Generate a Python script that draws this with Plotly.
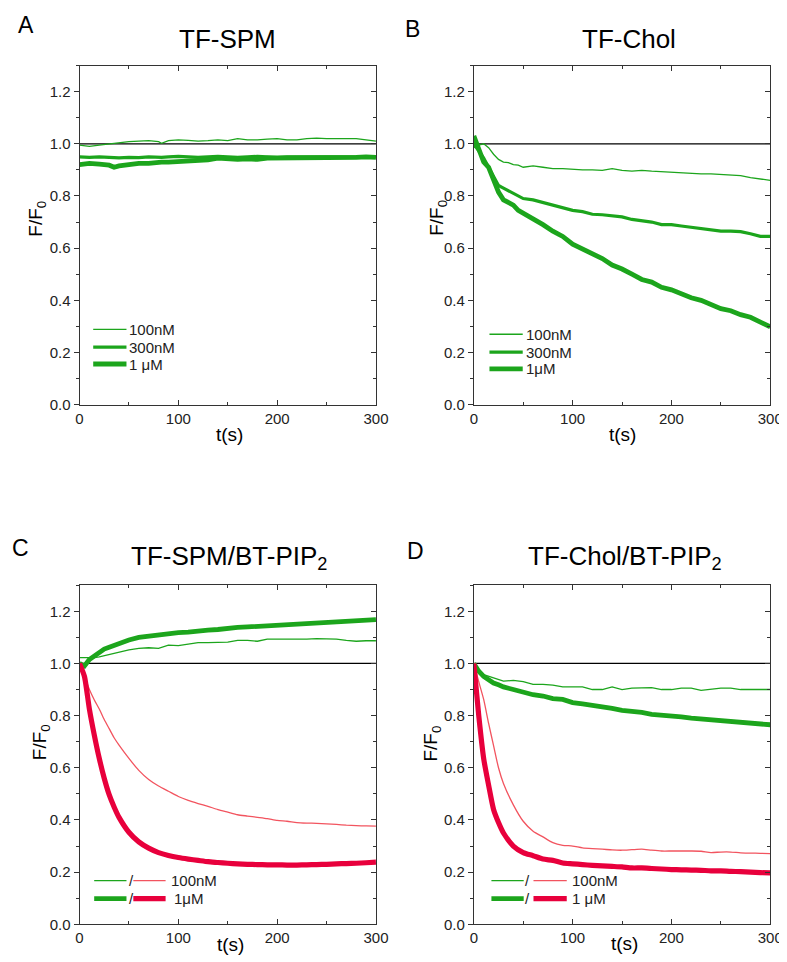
import plotly.graph_objects as go

# ---------------- data ----------------
t_a = [0, 10, 20, 30, 35, 40, 50, 60, 70, 80, 83, 90, 100, 110, 120, 130, 140, 150,
       160, 170, 180, 190, 200, 210, 220, 230, 240, 250, 260, 270, 280, 290, 300]
a_100nM = [0.995, 0.99, 0.995, 1.0, 1.003, 1.005, 1.008, 1.01, 1.012, 1.008, 1.002, 1.012,
           1.015, 1.013, 1.01, 1.012, 1.015, 1.012, 1.02, 1.015, 1.015, 1.018, 1.02, 1.015,
           1.015, 1.02, 1.022, 1.02, 1.02, 1.018, 1.02, 1.015, 1.01]
a_300nM = [0.95, 0.948, 0.95, 0.947, 0.945, 0.946, 0.948, 0.947, 0.95, 0.948, 0.948, 0.95,
           0.952, 0.95, 0.948, 0.95, 0.952, 0.95, 0.948, 0.95, 0.952, 0.95, 0.948, 0.95,
           0.95, 0.952, 0.95, 0.95, 0.952, 0.95, 0.95, 0.952, 0.95]
a_1uM = [0.92, 0.925, 0.922, 0.918, 0.91, 0.915, 0.92, 0.925, 0.925, 0.93, 0.93, 0.93,
         0.932, 0.935, 0.94, 0.938, 0.945, 0.942, 0.94, 0.942, 0.94, 0.945, 0.945, 0.945,
         0.948, 0.945, 0.945, 0.948, 0.948, 0.945, 0.948, 0.95, 0.948]

t_b = [0, 5, 10, 15, 20, 25, 30, 35, 40, 45, 50, 60, 70, 80, 90, 100, 110, 120, 130, 140,
       150, 160, 170, 180, 190, 200, 210, 220, 230, 240, 250, 260, 270, 280, 290, 300]
b_100nM = [0.985, 0.995, 1.0, 0.985, 0.96, 0.94, 0.93, 0.928, 0.92, 0.918, 0.91, 0.915,
           0.91, 0.905, 0.905, 0.902, 0.9, 0.9, 0.898, 0.905, 0.898, 0.895, 0.898, 0.895,
           0.893, 0.89, 0.89, 0.888, 0.885, 0.885, 0.882, 0.88, 0.878, 0.87, 0.865, 0.86]
b_300nM = [1.0, 0.975, 0.945, 0.91, 0.875, 0.84, 0.83, 0.82, 0.81, 0.8, 0.79, 0.785,
           0.775, 0.765, 0.755, 0.745, 0.74, 0.73, 0.728, 0.725, 0.72, 0.71, 0.705, 0.7,
           0.69, 0.69, 0.685, 0.68, 0.675, 0.67, 0.665, 0.665, 0.663, 0.655, 0.645, 0.645]
b_1uM = [1.03, 0.98, 0.93, 0.91, 0.86, 0.815, 0.785, 0.775, 0.765, 0.745, 0.735, 0.71,
         0.69, 0.665, 0.645, 0.615, 0.598, 0.58, 0.56, 0.535, 0.52, 0.5, 0.48, 0.47,
         0.45, 0.44, 0.425, 0.41, 0.4, 0.385, 0.368, 0.36, 0.345, 0.335, 0.315, 0.298]

t_c = [0, 5, 10, 15, 20, 25, 30, 35, 40, 50, 60, 70, 80, 90, 100, 110, 120, 130, 140,
       150, 160, 170, 180, 190, 200, 210, 220, 230, 240, 250, 260, 270, 280, 290, 300]
c_green_100nM = [1.022, 1.022, 1.02, 1.022, 1.025, 1.03, 1.035, 1.04, 1.045, 1.052, 1.058,
                 1.06, 1.058, 1.07, 1.068, 1.075, 1.08, 1.08, 1.08, 1.082, 1.088, 1.088,
                 1.085, 1.093, 1.093, 1.093, 1.092, 1.093, 1.095, 1.093, 1.093, 1.088,
                 1.085, 1.087, 1.087]
c_green_1uM = [1.0, 0.99, 1.015, 1.03, 1.045, 1.055, 1.062, 1.07, 1.075, 1.09, 1.1, 1.105,
               1.11, 1.115, 1.118, 1.12, 1.125, 1.128, 1.13, 1.135, 1.138, 1.14, 1.142,
               1.145, 1.148, 1.15, 1.152, 1.155, 1.157, 1.158, 1.16, 1.163, 1.165, 1.167,
               1.168]
c_red_100nM = [1.0, 0.95, 0.9, 0.86, 0.825, 0.785, 0.75, 0.715, 0.687, 0.636, 0.59, 0.555,
               0.53, 0.51, 0.49, 0.475, 0.463, 0.452, 0.44, 0.43, 0.42, 0.415, 0.41, 0.405,
               0.398, 0.395, 0.39, 0.388, 0.387, 0.385, 0.383, 0.38, 0.378, 0.377, 0.376]
c_red_1uM = [1.0, 0.95, 0.825, 0.725, 0.636, 0.56, 0.497, 0.45, 0.41, 0.353, 0.316, 0.292,
             0.275, 0.264, 0.256, 0.25, 0.245, 0.24, 0.237, 0.234, 0.232, 0.23, 0.229, 0.228,
             0.228, 0.227, 0.227, 0.228, 0.229, 0.23, 0.232, 0.233, 0.234, 0.236, 0.238]

t_d = [0, 5, 10, 15, 20, 25, 30, 40, 50, 60, 70, 80, 90, 100, 110, 120, 130, 140, 150,
       160, 170, 180, 190, 200, 210, 220, 230, 240, 250, 260, 270, 280, 290, 300]
d_green_100nM = [1.0, 0.975, 0.957, 0.95, 0.945, 0.938, 0.932, 0.935, 0.93, 0.92, 0.92,
                 0.917, 0.91, 0.91, 0.91, 0.9, 0.9, 0.91, 0.9, 0.905, 0.905, 0.907, 0.9,
                 0.9, 0.905, 0.905, 0.897, 0.9, 0.905, 0.905, 0.9, 0.9, 0.9, 0.9]
d_green_1uM = [1.0, 0.97, 0.95, 0.935, 0.925, 0.918, 0.91, 0.9, 0.888, 0.88, 0.875, 0.865,
               0.862, 0.85, 0.845, 0.84, 0.833, 0.828, 0.82, 0.818, 0.812, 0.805, 0.803,
               0.8, 0.795, 0.79, 0.787, 0.785, 0.783, 0.778, 0.774, 0.77, 0.768, 0.765]
d_red_100nM = [1.0, 0.93, 0.862, 0.77, 0.685, 0.6, 0.54, 0.458, 0.395, 0.357, 0.335, 0.313,
               0.303, 0.3, 0.293, 0.29, 0.288, 0.285, 0.284, 0.286, 0.288, 0.284, 0.281,
               0.281, 0.281, 0.281, 0.28, 0.275, 0.277, 0.277, 0.274, 0.273, 0.272, 0.271]
d_red_1uM = [1.0, 0.8, 0.635, 0.533, 0.44, 0.39, 0.35, 0.3, 0.275, 0.263, 0.25, 0.245,
             0.235, 0.232, 0.229, 0.226, 0.224, 0.222, 0.22, 0.216, 0.216, 0.214, 0.212,
             0.21, 0.209, 0.208, 0.207, 0.205, 0.205, 0.203, 0.202, 0.2, 0.198, 0.197]

baseline_t = [0, 300]
baseline_y = [1.0, 1.0]

x_ticks = [0, 100, 200, 300]
y_ticks = [0.0, 0.2, 0.4, 0.6, 0.8, 1.0, 1.2]
y_tick_labels = ["0.0", "0.2", "0.4", "0.6", "0.8", "1.0", "1.2"]

titles = ["TF-SPM", "TF-Chol", "TF-SPM/BT-PIP<sub>2</sub>", "TF-Chol/BT-PIP<sub>2</sub>"]
letters = ["A", "B", "C", "D"]

# ---------------- styles ----------------
W, H = 787, 962
GREEN = "#1ca51c"
RED = "#e8003c"
RED_THIN = "#f2545f"
FONT = "Liberation Sans, Arial, sans-serif"
THIN, MED, THICK = 1.3, 3.2, 4.8

def px(xp):
    return xp / W

def py(yp):
    return 1 - yp / H

# panel geometry in pixels: (left, right, top, bottom)
panels = [(69, 372, 58, 400), (472, 775, 58, 400), (69, 372, 582, 924), (472, 775, 582, 924)]

fig = go.Figure()

series = [
    [(t_a, a_100nM, GREEN, THIN, "linear"), (t_a, a_300nM, GREEN, MED, "linear"),
     (t_a, a_1uM, GREEN, THICK, "linear")],
    [(t_b, b_100nM, GREEN, THIN, "linear"), (t_b, b_300nM, GREEN, MED, "linear"),
     (t_b, b_1uM, GREEN, THICK, "linear")],
    [(t_c, c_green_100nM, GREEN, THIN, "linear"), (t_c, c_green_1uM, GREEN, THICK, "linear"),
     (t_c, c_red_100nM, RED_THIN, THIN, "spline"), (t_c, c_red_1uM, RED, THICK + 0.4, "spline")],
    [(t_d, d_green_100nM, GREEN, THIN, "linear"), (t_d, d_green_1uM, GREEN, THICK, "linear"),
     (t_d, d_red_100nM, RED_THIN, THIN, "spline"), (t_d, d_red_1uM, RED, THICK + 0.4, "spline")],
]

for i, (l, r, tp, bt) in enumerate(panels):
    xa = "x" if i == 0 else f"x{i+1}"
    ya = "y" if i == 0 else f"y{i+1}"
    fig.add_trace(go.Scatter(x=baseline_t, y=baseline_y, mode="lines",
                             line=dict(color="black", width=1.3),
                             xaxis=xa, yaxis=ya, showlegend=False, hoverinfo="skip"))
    for (tx, vy, col, w, shp) in series[i]:
        ln = dict(color=col, width=w, shape=shp)
        if shp == "spline":
            ln["smoothing"] = 0.6
        fig.add_trace(go.Scatter(x=tx, y=vy, mode="lines", line=ln,
                                 xaxis=xa, yaxis=ya, showlegend=False))
    xkey = "xaxis" if i == 0 else f"xaxis{i+1}"
    ykey = "yaxis" if i == 0 else f"yaxis{i+1}"
    fig.layout[xkey] = dict(
        domain=[px(l), px(r)], anchor=ya, range=[0, 300],
        tickvals=x_ticks, ticks="inside", ticklen=5, tickcolor="#333",
        minor=dict(dtick=50, tick0=0, ticks="inside", ticklen=3, tickcolor="#333"),
        showline=True, linecolor="#333", linewidth=1, mirror="ticks",
        showgrid=False, zeroline=False,
        tickfont=dict(family=FONT, size=15, color="#222"),
    )
    fig.layout[ykey] = dict(
        domain=[py(bt), py(tp)], anchor=xa, range=[0, 1.3],
        tickvals=y_ticks, ticktext=y_tick_labels, ticks="outside", ticklen=5,
        tickcolor="#333",
        minor=dict(dtick=0.1, tick0=0, ticks="outside", ticklen=3, tickcolor="#333"),
        showline=True, linecolor="#333", linewidth=1, mirror=True,
        showgrid=False, zeroline=False,
        tickfont=dict(family=FONT, size=15, color="#222"),
    )
    # right-side inward ticks (mirror axis)
    rkey = f"yaxis{i+5}"
    fig.layout[rkey] = dict(
        overlaying=ya, side="right", anchor=xa, range=[0, 1.3],
        tickvals=y_ticks, ticks="inside", ticklen=5, tickcolor="#333",
        minor=dict(dtick=0.1, tick0=0, ticks="inside", ticklen=3, tickcolor="#333"),
        showticklabels=False, showline=False, showgrid=False, zeroline=False,
    )
    fig.add_trace(go.Scatter(x=[None], y=[None], xaxis=xa, yaxis=f"y{i+5}",
                             showlegend=False, hoverinfo="skip"))

annotations = []
title_pos = [(220, 31), (631, 31), (222, 554), (627, 554)]
letter_pos = [(14, 17), (409, 21), (9, 545), (412, 548)]
xlab_pos = [(222, 430), (624, 430), (223, 944), (626, 943)]
ylab_pos = [(26, 212), (436, 212), (29, 740), (429, 742)]
for i in range(4):
    annotations.append(dict(text=titles[i], x=px(title_pos[i][0]), y=py(title_pos[i][1]),
                            xref="paper", yref="paper", showarrow=False,
                            xanchor="center", yanchor="middle",
                            font=dict(family=FONT, size=26, color="black")))
    annotations.append(dict(text=letters[i], x=px(letter_pos[i][0]), y=py(letter_pos[i][1]),
                            xref="paper", yref="paper", showarrow=False,
                            xanchor="center", yanchor="middle",
                            font=dict(family=FONT, size=23, color="black")))
    annotations.append(dict(text="t(s)", x=px(xlab_pos[i][0]), y=py(xlab_pos[i][1]),
                            xref="paper", yref="paper", showarrow=False,
                            xanchor="center", yanchor="middle",
                            font=dict(family=FONT, size=19, color="black")))
    annotations.append(dict(text="F/F<sub>0</sub>", x=px(ylab_pos[i][0]), y=py(ylab_pos[i][1]),
                            xref="paper", yref="paper", showarrow=False, textangle=-90,
                            xanchor="center", yanchor="middle",
                            font=dict(family=FONT, size=19, color="black")))

shapes = []

def seg(x0, x1, yv, col, w):
    shapes.append(dict(type="line", xref="paper", yref="paper",
                       x0=px(x0), x1=px(x1), y0=py(yv), y1=py(yv),
                       line=dict(color=col, width=w)))

def label(txt, xv, yv):
    annotations.append(dict(text=txt, x=px(xv), y=py(yv), xref="paper", yref="paper",
                            showarrow=False, xanchor="left", yanchor="middle",
                            font=dict(family=FONT, size=15, color="#222")))

# legends A and B
leg_ab = [
    (83, 117, 118, [324, 342, 359], ["100nM", "300nM", "1 μM"]),
    (488, 522, 523, [329, 347, 364], ["100nM", "300nM", "1μM"]),
]
for (x0, x1, xt, rows, labs) in leg_ab:
    for yv, w, lab in zip(rows, [THIN, MED, THICK], labs):
        seg(x0, x1, yv, GREEN, w)
        label(lab, xt, yv)

# legends C and D
leg_cd = [
    (84, 117, 122, 124, 157, 160, [880, 898], ["100nM", "1μM"]),
    (490, 523, 527, 533, 567, 570, [880, 898], ["100nM", "1 μM"]),
]
for (g0, g1, sl, r0, r1, xt, rows, labs) in leg_cd:
    for yv, (gw, rc, rw), lab in zip(rows, [(THIN, RED_THIN, THIN), (THICK, RED, THICK + 0.4)], labs):
        seg(g0, g1, yv, GREEN, gw)
        annotations.append(dict(text="/", x=px(sl), y=py(yv), xref="paper", yref="paper",
                                showarrow=False, xanchor="center", yanchor="middle",
                                font=dict(family=FONT, size=15, color="#222")))
        seg(r0, r1, yv, rc, rw)
        label(lab, xt + (4 if lab == "1μM" and xt < 200 else 0), yv)

fig.update_layout(
    width=W, height=H, margin=dict(l=0, r=0, t=0, b=0),
    paper_bgcolor="white", plot_bgcolor="white",
    showlegend=False, annotations=annotations, shapes=shapes,
    font=dict(family=FONT),
)

fig.write_html("out.html")
